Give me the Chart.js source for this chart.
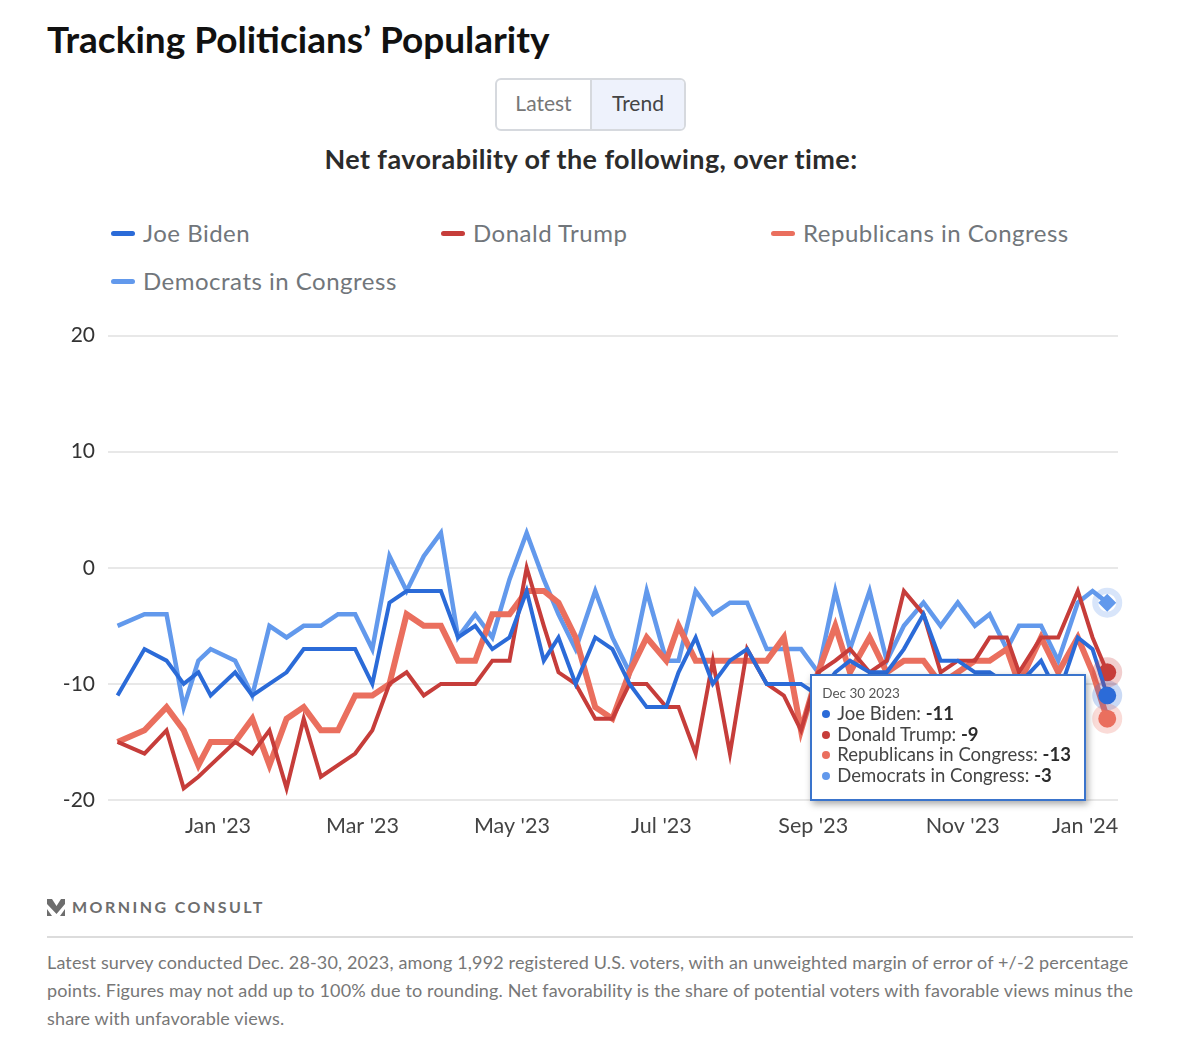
<!DOCTYPE html>
<html>
<head>
<meta charset="utf-8">
<title>Tracking Politicians' Popularity</title>
<script src="https://cdn.jsdelivr.net/npm/chart.js@4"></script>
<style>
  html, body { margin: 0; padding: 0; background: #fff; }
  body { position: relative; width: 1200px; height: 1056px; overflow: hidden; font-family: Lato, "Open Sans", sans-serif; }
  .abs { position: absolute; white-space: nowrap; }
  #title { left: 47px; top: 16px; font-size: 37px; line-height: 46px; font-weight: 700; color: #111; }
  #toggle { left: 495px; top: 78px; width: 187px; height: 49px; border: 2px solid #d6d9de; border-radius: 6px; display: flex; overflow: hidden; font-size: 21px; line-height: 45px; text-align: center; }
  #toggle .latest { width: 93px; color: #777; border-right: 2px solid #d6d9de; }
  #toggle .trend { flex: 1; background: #eef2fc; color: #444; }
  #subtitle { left: 0; width: 1182px; top: 142px; text-align: center; font-size: 27px; letter-spacing: 0.4px; line-height: 34px; font-weight: 700; color: #2b2b2b; }
  .legend-item { position: absolute; white-space: nowrap; font-size: 24px; letter-spacing: 0.5px; line-height: 30px; color: #71767b; }
  .legend-item i { position: absolute; left: 0; top: 13px; width: 24px; height: 5px; border-radius: 3px; }
  .legend-item span { position: absolute; left: 32px; top: 0; }
  #chartWrap { position: absolute; left: 0; top: 310px; width: 1200px; height: 550px; }
  #tip { position: absolute; box-sizing: border-box; width: 276px; height: 127px; background: #fff; border: 2px solid #3a74cc; box-shadow: 2px 3px 7px rgba(0,0,0,.35); padding: 9px 10px; color: #444; font-size: 18.5px; line-height: 20.6px; white-space: nowrap; }
  #tip .date { font-size: 13.5px; line-height: 17px; color: #555; margin-bottom: 1px; }
  #tip .dot { display: inline-block; width: 8px; height: 8px; border-radius: 50%; margin-right: 7px; vertical-align: 2px; }
  #tip b { color: #2b2b2b; }
  #brand { left: 72px; top: 897px; font-size: 16px; line-height: 20px; font-weight: 700; letter-spacing: 2.45px; color: #6d6d6d; }
  #rule { left: 47px; top: 936px; width: 1086px; height: 2px; background: #dcdcdc; }
  .foot { left: 47px; font-size: 18px; letter-spacing: 0.15px; line-height: 28px; color: #777; }
</style>
</head>
<body>
<div id="title" class="abs">Tracking Politicians’ Popularity</div>
<div id="toggle" class="abs"><div class="latest">Latest</div><div class="trend">Trend</div></div>
<div id="subtitle" class="abs">Net favorability of the following, over time:</div>
<div id="legend"></div>
<div id="chartWrap"><canvas id="favorabilityChart" width="1200" height="550"></canvas></div>
<div id="tip" style="display:none"></div>
<svg class="abs" style="left:47px;top:898px" width="19" height="19" viewBox="0 0 19 19">
  <path d="M0 1 L5 1 L9.5 8 L14 1 L18 1 L18 6 L9.5 16 L0 6 Z" fill="#6d6d6d"/>
  <path d="M0 11 L5 18 L0 18 Z M18 11 L18 18 L13 18 Z" fill="#6d6d6d"/>
</svg>
<div id="brand" class="abs">MORNING CONSULT</div>
<div id="rule" class="abs"></div>
<div class="abs foot" style="top:948px">Latest survey conducted Dec. 28-30, 2023, among 1,992 registered U.S. voters, with an unweighted margin of error of +/-2 percentage</div>
<div class="abs foot" style="top:976px">points. Figures may not add up to 100% due to rounding. Net favorability is the share of potential voters with favorable views minus the</div>
<div class="abs foot" style="top:1004px">share with unfavorable views.</div>

<script>
const surveyDates = [
  '2022-11-21', '2022-12-02', '2022-12-11', '2022-12-18', '2022-12-24', '2022-12-29',
  '2023-01-08', '2023-01-15', '2023-01-22', '2023-01-29', '2023-02-05', '2023-02-12',
  '2023-02-19', '2023-02-26', '2023-03-05', '2023-03-12', '2023-03-19', '2023-03-26',
  '2023-04-02', '2023-04-09', '2023-04-16', '2023-04-23', '2023-04-30', '2023-05-07',
  '2023-05-14', '2023-05-20', '2023-05-27', '2023-06-04', '2023-06-11', '2023-06-18',
  '2023-06-25', '2023-07-03', '2023-07-08', '2023-07-15', '2023-07-22', '2023-07-29',
  '2023-08-05', '2023-08-13', '2023-08-20', '2023-08-27', '2023-09-03', '2023-09-10',
  '2023-09-16', '2023-09-24', '2023-10-01', '2023-10-08', '2023-10-16', '2023-10-23',
  '2023-10-30', '2023-11-06', '2023-11-12', '2023-11-19', '2023-11-24', '2023-12-03',
  '2023-12-10', '2023-12-18', '2023-12-24', '2023-12-30'
];

const bidenValues = [
  -11, -7, -8, -10, -9, -11, -9, -11, -10, -9, -7, -7, -7, -7, -10, -3, -2, -2, -2,
  -6, -5, -7, -6, -2, -8, -6, -10, -6, -7, -10, -12, -12, -9, -6, -10, -8, -7, -10, -10,
  -10, -11, -9, -8, -9, -9, -7, -4, -8, -8, -9, -9, -10, -10, -8, -11, -6, -7, -11
];
const trumpValues = [
  -15, -16, -14, -19, -18, -17, -15, -16, -14, -19, -13, -18, -17, -16, -14, -10, -9, -11, -10,
  -10, -10, -8, -8, 0, -5, -9, -10, -13, -13, -10, -10, -12, -12, -16, -8, -16, -7, -10, -11,
  -14, -9, -8, -7, -9, -8, -2, -4, -9, -8, -8, -6, -6, -9, -6, -6, -2, -6, -9
];
const republicanValues = [
  -15, -14, -12, -14, -17, -15, -15, -13, -17, -13, -12, -14, -14, -11, -11, -10, -4, -5, -5,
  -8, -8, -4, -4, -2, -2, -3, -6, -12, -13, -9, -6, -8, -5, -8, -8, -8, -8, -8, -6,
  -14, -9, -5, -9, -6, -9, -8, -8, -10, -9, -8, -8, -7, -10, -6, -9, -6, -9, -13
];
const democratValues = [
  -5, -4, -4, -12, -8, -7, -8, -11, -5, -6, -5, -5, -4, -4, -7, 1, -2, 1, 3,
  -6, -4, -6, -1, 3, -1, -4, -7, -2, -6, -9, -2, -8, -8, -2, -4, -3, -3, -7, -7,
  -7, -9, -2, -7, -2, -8, -5, -3, -5, -3, -5, -4, -7, -5, -5, -8, -3, -2, -3
];

const seriesNames = ['Joe Biden', 'Donald Trump', 'Republicans in Congress', 'Democrats in Congress'];
const seriesColors = ['#2b6bd8', '#c63d3a', '#ea6f5e', '#6299ec'];
const seriesWidths = [4, 4, 6, 4.5];

const yTickValues = [-20, -10, 0, 10, 20];
const xTickLabels = ["Jan '23", "Mar '23", "May '23", "Jul '23", "Sep '23", "Nov '23", "Jan '24"];
// the last label sits inside the plot edge in the original, so its tick is pulled in
const xTickDates = ['2023-01-01', '2023-03-01', '2023-05-01', '2023-07-01', '2023-09-01', '2023-11-01', '2023-12-21'];
const tooltipDate = 'Dec 30 2023';

function dayNumber(dateText) {
  return (Date.parse(dateText + 'T00:00:00Z') - Date.parse('2023-01-01T00:00:00Z')) / 86400000;
}

function toPoints(values) {
  return values.map((value, i) => ({ x: dayNumber(surveyDates[i]), y: value }));
}

function renderLegend() {
  const slots = [[111, 218], [441, 218], [771, 218], [111, 266]];
  document.getElementById('legend').innerHTML = seriesNames.map((name, i) => `
    <div class="legend-item" style="left:${slots[i][0]}px;top:${slots[i][1]}px">
      <i style="background:${seriesColors[i]}"></i><span>${name}</span>
    </div>
  `).join('');
}

function renderTooltip(context) {
  const tip = document.getElementById('tip');
  const model = context.tooltip;
  if (!model.dataPoints || !model.dataPoints.length) return;
  const rows = model.dataPoints.map(item => `
    <div><span class="dot" style="background:${seriesColors[item.datasetIndex]}"></span>${item.dataset.label}: <b>${item.parsed.y}</b></div>
  `).join('');
  tip.innerHTML = `<div class="date">${tooltipDate}</div>${rows}`;
  tip.style.display = 'block';
  tip.style.left = (model.caretX - 297) + 'px';
  tip.style.top = '674px';
}

// soft ring round the highlighted last point of each line
const haloPlugin = {
  id: 'halo',
  afterDatasetsDraw(chart) {
    const ctx = chart.ctx;
    chart.data.datasets.forEach((dataset, i) => {
      const meta = chart.getDatasetMeta(i);
      const point = meta.data[meta.data.length - 1];
      ctx.save();
      ctx.globalAlpha = 0.25;
      ctx.strokeStyle = seriesColors[i];
      ctx.lineWidth = 6;
      ctx.beginPath();
      ctx.arc(point.x, point.y, 12, 0, Math.PI * 2);
      ctx.stroke();
      ctx.restore();
    });
  }
};

const lastIndex = surveyDates.length - 1;
const allValues = [bidenValues, trumpValues, republicanValues, democratValues];

const chart = new Chart(document.getElementById('favorabilityChart'), {
  type: 'line',
  data: {
    datasets: seriesNames.map((name, i) => ({
      label: name,
      data: toPoints(allValues[i]),
      borderColor: seriesColors[i],
      backgroundColor: seriesColors[i],
      borderWidth: seriesWidths[i],
      tension: 0,
      pointRadius: ctx => (ctx.dataIndex === lastIndex ? 9 : 0),
      pointHoverRadius: ctx => (ctx.dataIndex === lastIndex ? 9 : 0),
      pointBorderWidth: 0,
      pointHoverBorderWidth: 0,
      pointStyle: i === 3 ? 'rectRot' : 'circle'
    }))
  },
  options: {
    responsive: false,
    animation: false,
    layout: { padding: { left: 0, right: 82, top: 25, bottom: 0 } },
    interaction: { mode: 'index', intersect: false },
    plugins: {
      legend: { display: false },
      tooltip: { enabled: false, external: renderTooltip }
    },
    scales: {
      x: {
        type: 'linear',
        min: -44.9,
        max: 367.4,
        afterBuildTicks: scale => {
          scale.ticks = xTickDates.map(dayNumber).map(value => ({ value }));
        },
        afterFit: scale => { scale.height = 60; },
        grid: { display: false },
        border: { display: false },
        ticks: {
          autoSkip: false,
          maxRotation: 0,
          padding: 5,
          color: '#444',
          font: { family: 'Lato', size: 21.5 },
          callback: (value, index) => xTickLabels[index]
        }
      },
      y: {
        min: -20,
        max: 20,
        afterBuildTicks: scale => {
          scale.ticks = yTickValues.map(value => ({ value }));
        },
        afterFit: scale => { scale.width = 108; },
        grid: { color: '#e8e8e8', lineWidth: 2, drawTicks: false },
        border: { display: false },
        ticks: {
          padding: 13,
          color: '#333',
          font: { family: 'Lato', size: 21 }
        }
      }
    }
  },
  plugins: [haloPlugin]
});

renderLegend();
chart.tooltip.setActiveElements(seriesNames.map((name, i) => ({ datasetIndex: i, index: lastIndex })), { x: 0, y: 0 });
chart.update();
</script>
</body>
</html>
